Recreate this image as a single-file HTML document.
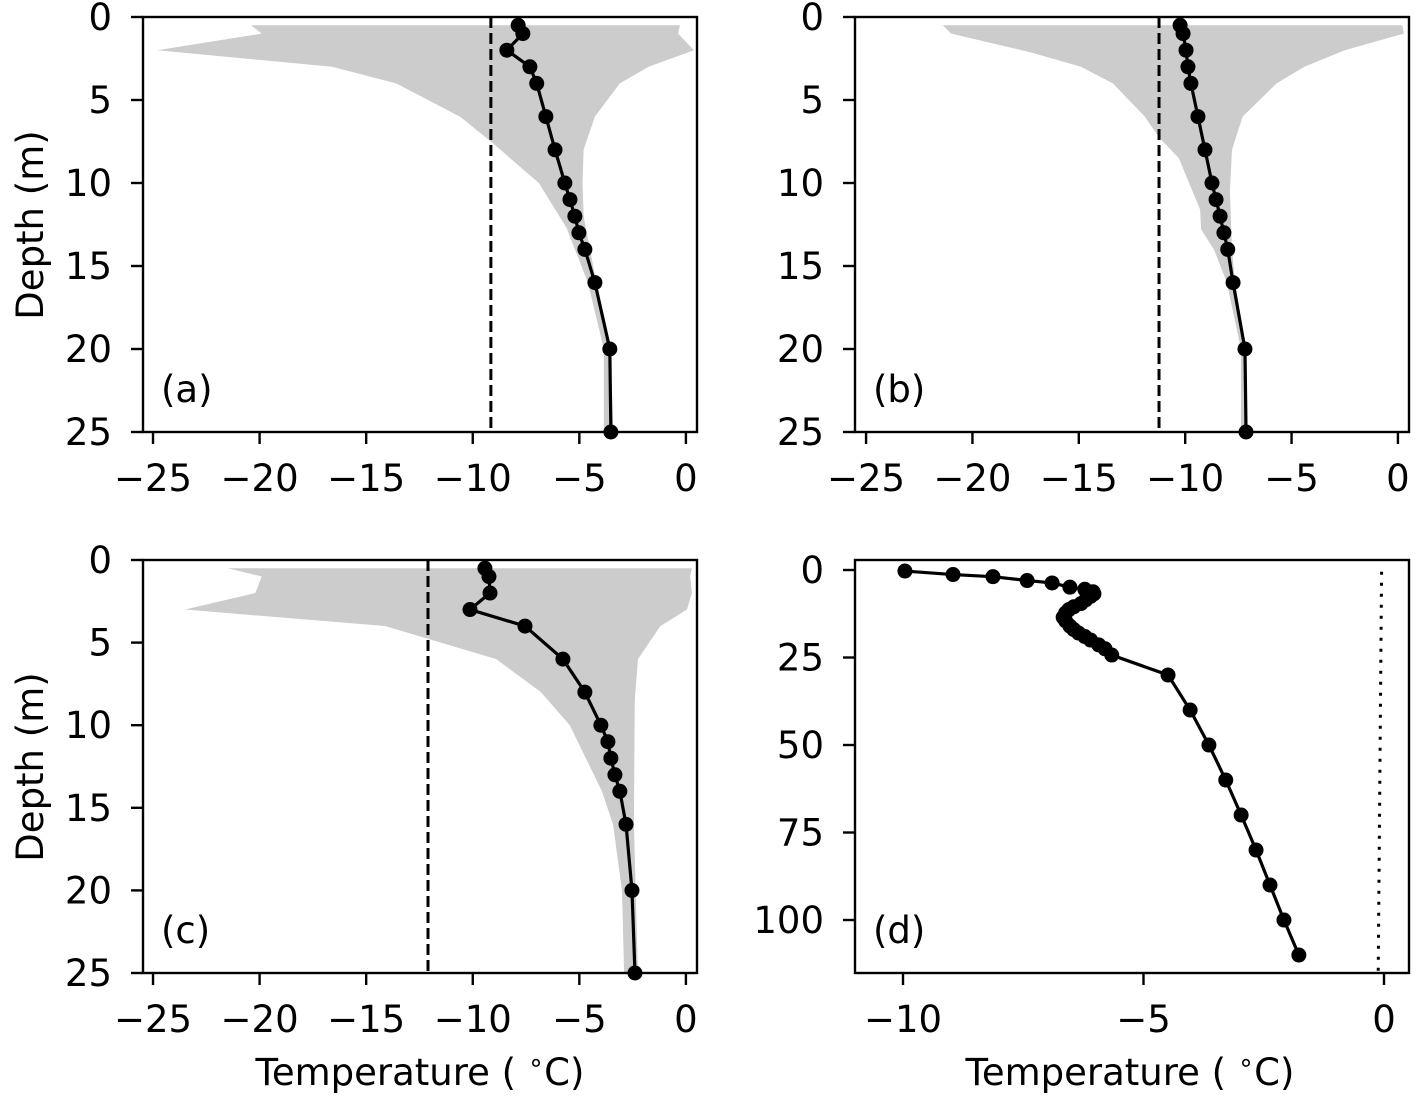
<!DOCTYPE html>
<html><head><meta charset="utf-8"><style>
html,body{margin:0;padding:0;background:#fff;}
svg{display:block;font-family:"DejaVu Sans","Liberation Sans",sans-serif;}
</style></head><body>
<svg id="fig" width="1419" height="1102" viewBox="0 0 1419 1102" xmlns="http://www.w3.org/2000/svg">
<rect width="1419" height="1102" fill="#fff"/>
</svg>
<script>
// ---- Panel (a) data ----
const depthsABC = [0.5,1,2,3,4,6,8,10,11,12,13,14,16,20,25];
const tempA = [-7.87,-7.65,-8.40,-7.32,-7.0,-6.57,-6.14,-5.68,-5.44,-5.21,-5.02,-4.74,-4.27,-3.57,-3.52];
const envDepthA = [0.5,1,2,3,4,6,7.5,10,12.7,16,20,25];
const envMinA = [-20.4,-19.9,-24.8,-16.6,-13.6,-10.6,-9.15,-6.9,-5.6,-4.6,-3.85,-3.85];
const envMaxDepthA = [0.5,1,2,3,4,6,8,10,12,14,16,20,25];
const envMaxA = [-0.28,-0.37,0.38,-1.75,-3.1,-4.27,-4.8,-4.85,-4.8,-4.5,-4.2,-3.55,-3.4];
const refA = -9.15;
// ---- Panel (b) data ----
const tempB = [-10.24,-10.1,-9.96,-9.87,-9.73,-9.4,-9.07,-8.74,-8.55,-8.36,-8.18,-8.0,-7.75,-7.19,-7.14];
const envDepthB = [0.5,1,2.15,3,4,6,7.3,8.5,11.6,12.8,14,16,20,25];
const envMinB = [-21.4,-21.0,-17.2,-14.9,-13.4,-11.9,-11.2,-10.3,-9.3,-9.25,-8.65,-8.04,-7.38,-7.38];
const envMaxDepthB = [0.5,1,2,3,4,6,8,10.5,14,16,20,25];
const envMaxB = [0.2,0.28,-2.5,-4.4,-5.7,-7.3,-7.8,-7.9,-7.8,-7.65,-7.14,-7.1];
const refB = -11.23;
// ---- Panel (c) data ----
const tempC = [-9.43,-9.24,-9.19,-10.13,-7.55,-5.77,-4.74,-3.99,-3.66,-3.52,-3.33,-3.1,-2.81,-2.53,-2.39];
const envDepthC = [0.5,1,2,3,4,6,8,10,14,16,20,25];
const envMinC = [-21.5,-19.9,-20.2,-23.5,-14.1,-8.9,-6.8,-5.45,-3.94,-3.42,-3.0,-2.9];
const envMaxDepthC = [0.5,1,2,3,4,6,8.5,16,25];
const envMaxC = [0.28,0.2,0.28,0.05,-1.2,-2.25,-2.4,-2.44,-2.25];
const refC = -12.1;
// ---- Panel (d) data ----
const depthD = [0.3,1.3,1.9,3,3.7,4.9,5.5,6.2,6.8,7.5,8.5,9.6,10.5,11.3,12.3,13.5,14.5,16,17,18,19,20,21.4,22.5,24.3,30,40,50,60,70,80,90,100,110];
const tempD = [-9.96,-8.96,-8.13,-7.42,-6.9,-6.53,-6.22,-6.05,-6.03,-6.1,-6.2,-6.3,-6.45,-6.55,-6.62,-6.67,-6.62,-6.53,-6.45,-6.35,-6.22,-6.1,-5.93,-5.8,-5.66,-4.49,-4.03,-3.64,-3.29,-2.97,-2.66,-2.37,-2.08,-1.77];
const refDTemp = [-0.05,-0.12];
const refDDepth = [0.5,115];
// ---- ticks ----
const xTicksABC = [-25,-20,-15,-10,-5,0];
const yTicksABC = [0,5,10,15,20,25];
const xTicksD = [-10,-5,0];
const yTicksD = [0,25,50,75,100];

const NS = "http://www.w3.org/2000/svg";
const svg = document.getElementById('fig');
const FS = 37;
function el(tag, attrs, parent){
  const e = document.createElementNS(NS, tag);
  for (const k in attrs) e.setAttribute(k, attrs[k]);
  (parent||svg).appendChild(e);
  return e;
}
function fmt(v){ return v<0 ? '\u2212'+Math.abs(v) : String(v); }

function panel(cfg){
  const g = el('g', {});
  
  
  const X = t => cfg.x0 + (t - cfg.tmin)/(cfg.tmax - cfg.tmin)*(cfg.x1 - cfg.x0);
  const Y = d => cfg.y0 + (d - cfg.dmin)/(cfg.dmax - cfg.dmin)*(cfg.y1 - cfg.y0);
  const clip = el('clipPath', {id:'clip-'+cfg.id}, g);
  el('rect', {x:cfg.x0, y:cfg.y0, width:cfg.x1-cfg.x0, height:cfg.y1-cfg.y0}, clip);
  const inner = el('g', {'clip-path':'url(#clip-'+cfg.id+')'}, g);
  if (cfg.envMin){
    let pts = [];
    for (let i=0;i<cfg.envMin.length;i++) pts.push(X(cfg.envMin[i])+','+Y(cfg.envDepth[i]));
    for (let i=cfg.envMax.length-1;i>=0;i--) pts.push(X(cfg.envMax[i])+','+Y(cfg.envMaxDepth[i]));
    const env = el('polygon', {points:pts.join(' '), fill:'#cccccc', stroke:'none'}, inner);
    
    
  }
  if (cfg.ref !== undefined){
    const l = el('line', {x1:X(cfg.ref), x2:X(cfg.ref), y1:cfg.y0, y2:cfg.y1, stroke:'#000', 'stroke-width':3, 'stroke-dasharray':'11,5'}, inner);
    
    
  }
  if (cfg.refT){
    const l = el('line', {x1:X(cfg.refT[0]), x2:X(cfg.refT[1]), y1:Y(cfg.refD[0]), y2:Y(cfg.refD[1]), stroke:'#000', 'stroke-width':3, 'stroke-dasharray':'3,8'}, inner);
    
    
  }
  const pts = cfg.temp.map((t,i)=>X(t)+','+Y(cfg.depth[i])).join(' ');
  const pl = el('polyline', {points:pts, fill:'none', stroke:'#000', 'stroke-width':3.2}, g);
  
  
  cfg.temp.forEach((t,i)=>{
    const c = el('circle', {cx:X(t), cy:Y(cfg.depth[i]), r:7.5, fill:'#000'}, g);
    
    
  });
  const frame = el('rect', {x:cfg.x0, y:cfg.y0, width:cfg.x1-cfg.x0, height:cfg.y1-cfg.y0, fill:'none', stroke:'#000', 'stroke-width':2.4}, g);
  
  
  cfg.xt.forEach(v=>{
    el('line', {x1:X(v), x2:X(v), y1:cfg.y1, y2:cfg.y1+12, stroke:'#000', 'stroke-width':2.4}, g);
    const t = el('text', {x:X(v), y:cfg.y1+59, 'font-size':FS, 'text-anchor':'middle'}, g);
    t.textContent = fmt(v);
    
    
  });
  cfg.yt.forEach(v=>{
    el('line', {x1:cfg.x0-12, x2:cfg.x0, y1:Y(v), y2:Y(v), stroke:'#000', 'stroke-width':2.4}, g);
    const t = el('text', {x:cfg.x0-31, y:Y(v)+13, 'font-size':FS, 'text-anchor':'end'}, g);
    t.textContent = fmt(v);
    
    
  });
  const lab = el('text', {x:cfg.x0+18, y:cfg.y1-30, 'font-size':FS}, g);
  lab.textContent = '('+cfg.id+')';
  
  
}

panel({id:'a', x0:143, x1:697, y0:17, y1:432, tmin:-25.47, tmax:0.52, dmin:0, dmax:25,
  depth:depthsABC, temp:tempA, envDepth:envDepthA, envMin:envMinA, envMaxDepth:envMaxDepthA, envMax:envMaxA, ref:refA, xt:xTicksABC, yt:yTicksABC});
panel({id:'b', x0:855, x1:1409, y0:17, y1:432, tmin:-25.52, tmax:0.52, dmin:0, dmax:25,
  depth:depthsABC, temp:tempB, envDepth:envDepthB, envMin:envMinB, envMaxDepth:envMaxDepthB, envMax:envMaxB, ref:refB, xt:xTicksABC, yt:yTicksABC});
panel({id:'c', x0:143, x1:697, y0:560, y1:973, tmin:-25.47, tmax:0.52, dmin:0, dmax:25,
  depth:depthsABC, temp:tempC, envDepth:envDepthC, envMin:envMinC, envMaxDepth:envMaxDepthC, envMax:envMaxC, ref:refC, xt:xTicksABC, yt:yTicksABC});
panel({id:'d', x0:855, x1:1409, y0:560, y1:973, tmin:-10.998, tmax:0.52, dmin:-2.86, dmax:115.14,
  depth:depthD, temp:tempD, refT:refDTemp, refD:refDDepth, xt:xTicksD, yt:yTicksD});

function ylabel(cy){
  const t = el('text', {x:0, y:0, 'font-size':FS, 'text-anchor':'middle', transform:'translate(43,'+cy+') rotate(-90)'});
  t.textContent = 'Depth (m)';
  
  
}
ylabel(225); ylabel(767);
function xlabel(cx){
  const t = el('text', {x:cx, y:1085, 'font-size':FS, 'text-anchor':'middle'});
  
  
  const a = el('tspan', {}, t); a.textContent = 'Temperature ( ';
  const b = el('tspan', {dy:-14, 'font-size':26}, t); b.textContent = '\u2218';
  const c = el('tspan', {dy:14}, t); c.textContent = 'C)';
}
xlabel(420); xlabel(1130);
</script>
</body></html>
